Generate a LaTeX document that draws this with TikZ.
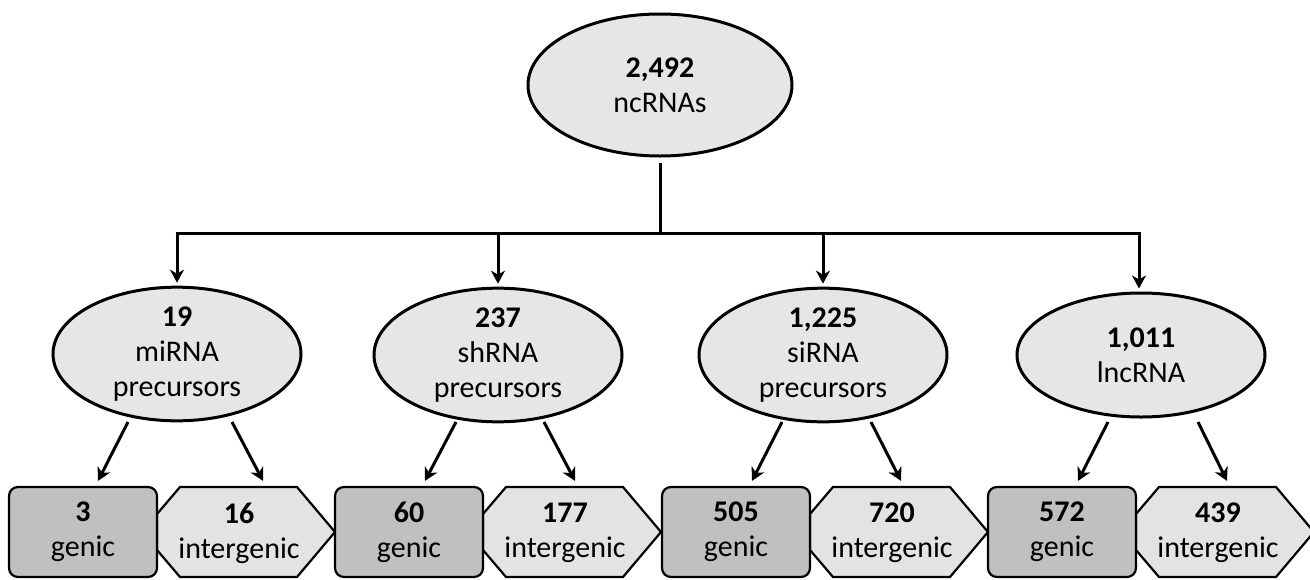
\documentclass[tikz,border=0pt]{standalone}
\usepackage{fontspec}
\setmainfont{Carlito}
\usetikzlibrary{shapes.geometric,arrows.meta,calc}
\definecolor{ellfill}{HTML}{E6E6E6}
\definecolor{genfill}{HTML}{C0C0C0}
\definecolor{interfill}{HTML}{E3E3E3}
\begin{document}
\begin{tikzpicture}[x=1pt,y=-1pt,
  every node/.style={font=\fontsize{30}{35}\selectfont, align=center, inner sep=0pt},
  ell/.style={ellipse, draw, line width=3pt, fill=ellfill, minimum width=248, minimum height=124},
  genbox/.style={rectangle, rounded corners=9pt, draw, line width=2.2pt, fill=genfill, minimum width=148, minimum height=90},
  hexpath/.style={draw, line width=2.2pt, fill=interfill, line join=miter},
  conn/.style={line width=3pt},
  arr/.style={line width=3pt, -{Stealth[length=13pt,width=14pt,inset=4pt]}}
]
\useasboundingbox (0,0) rectangle (1310,579);

% top node
\node[ell, minimum width=264, minimum height=142] (top) at (660,85) {\textbf{2,492}\\ncRNAs};

% second level
\node[ell] (mi) at (177,354) {\textbf{19}\\miRNA\\precursors};
\node[ell] (sh) at (498,355) {\textbf{237}\\shRNA\\precursors};
\node[ell] (si) at (823,355) {\textbf{1,225}\\siRNA\\precursors};
\node[ell] (lnc) at (1141,355) {\textbf{1,011}\\lncRNA};

% tree connector
\coordinate (j) at (660,233);
\coordinate (h1) at (177,233);
\coordinate (h2) at (498,233);
\coordinate (h3) at (823,233);
\coordinate (h4) at (1139,233);
\draw[conn, shorten <=5pt] (top.south) -- (j);
\draw[conn] ([xshift=-1.5pt]h1) -- ([xshift=1.5pt]h4);
\draw[arr, shorten >=3pt] (h1) -- (h1 |- mi.north);
\draw[arr, shorten >=3pt] (h2) -- (h2 |- sh.north);
\draw[arr, shorten >=3pt] (h3) -- (h3 |- si.north);
\draw[arr, shorten >=3pt] (h4) -- (h4 |- lnc.north);

% bottom level: intergenic hexagons (drawn first), genic boxes on top
\foreach \i/\L/\n in {1/157/16,2/483/177,3/810/720,4/1136/439}{
  \path[hexpath] (\L,514) -- (\L+23,487) -- (\L+140,487) -- (\L+178,532) -- (\L+140,577) -- (\L+23,577) -- (\L,550) -- cycle;
  \node (i\i) at (\L+82,533) {\textbf{\n}\\intergenic};
}
\foreach \i/\C/\n in {1/83/3,2/409/60,3/736/505,4/1062/572}{
  \node[genbox] (g\i) at (\C,532) {\textbf{\n}\\genic};
}

% arrow start and end points
\coordinate (s1l) at ($(mi.center)+(-49,68)$);
\coordinate (s1r) at ($(mi.center)+(55,68)$);
\coordinate (s2l) at ($(sh.center)+(-42,67)$);
\coordinate (s2r) at ($(sh.center)+(46,67)$);
\coordinate (s3l) at ($(si.center)+(-41,67)$);
\coordinate (s3r) at ($(si.center)+(48,67)$);
\coordinate (s4l) at ($(lnc.center)+(-33,67)$);
\coordinate (s4r) at ($(lnc.center)+(57,67)$);
\coordinate (e1l) at ($(g1.north)+(15,-5)$);
\coordinate (e1r) at ($(i1.center |- g1.north)+(24,-5)$);
\coordinate (e2l) at ($(g2.north)+(16,-5)$);
\coordinate (e2r) at ($(i2.center |- g2.north)+(10,-5)$);
\coordinate (e3l) at ($(g3.north)+(16,-5)$);
\coordinate (e3r) at ($(i3.center |- g3.north)+(9,-5)$);
\coordinate (e4l) at ($(g4.north)+(16,-5)$);
\coordinate (e4r) at ($(i4.center |- g4.north)+(9,-5)$);

\foreach \k in {1,2,3,4}{
  \draw[arr] (s\k l) -- (e\k l);
  \draw[arr] (s\k r) -- (e\k r);
}
\end{tikzpicture}
\end{document}
